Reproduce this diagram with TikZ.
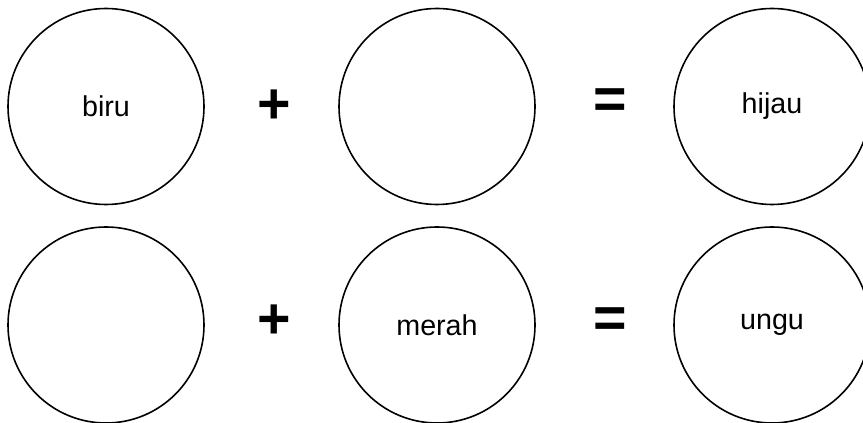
\documentclass[tikz,border=0pt]{standalone}
\usepackage{fontspec}
\setmainfont{Liberation Sans}
\usepackage{tikz}
\usetikzlibrary{positioning}
\tikzset{
  colornode/.style={draw=black,circle,line width=1.2pt,minimum size=147pt,inner sep=0pt,font=\fontsize{21.5}{25}\selectfont},
  opnode/.style={inner sep=0pt,font=\fontsize{43}{48}\selectfont\bfseries}
}
\begin{document}
\begin{tikzpicture}[x=0.75pt,y=-0.75pt]
\useasboundingbox (0,0) rectangle (863,423);
% baris atas
\node[colornode] (biru) at (106,106.5) {biru};
\node[colornode] (kosongA) at (437,106.5) {};
\node[colornode] (hijau) at (772,106.5) {hijau};
\node[opnode] (plusA) at (274,107) {+};
\node[opnode] (eqA) at (610,104) {=};

% baris bawah
\node[colornode] (kosongB) at (106,325) {};
\node[colornode] (merah) at (437,325) {merah};
\node[colornode] (ungu) at (772,325) {ungu};
\node[opnode] (plusB) at (274,322) {+};
\node[opnode] (eqB) at (610,323) {=};
\end{tikzpicture}
\end{document}
